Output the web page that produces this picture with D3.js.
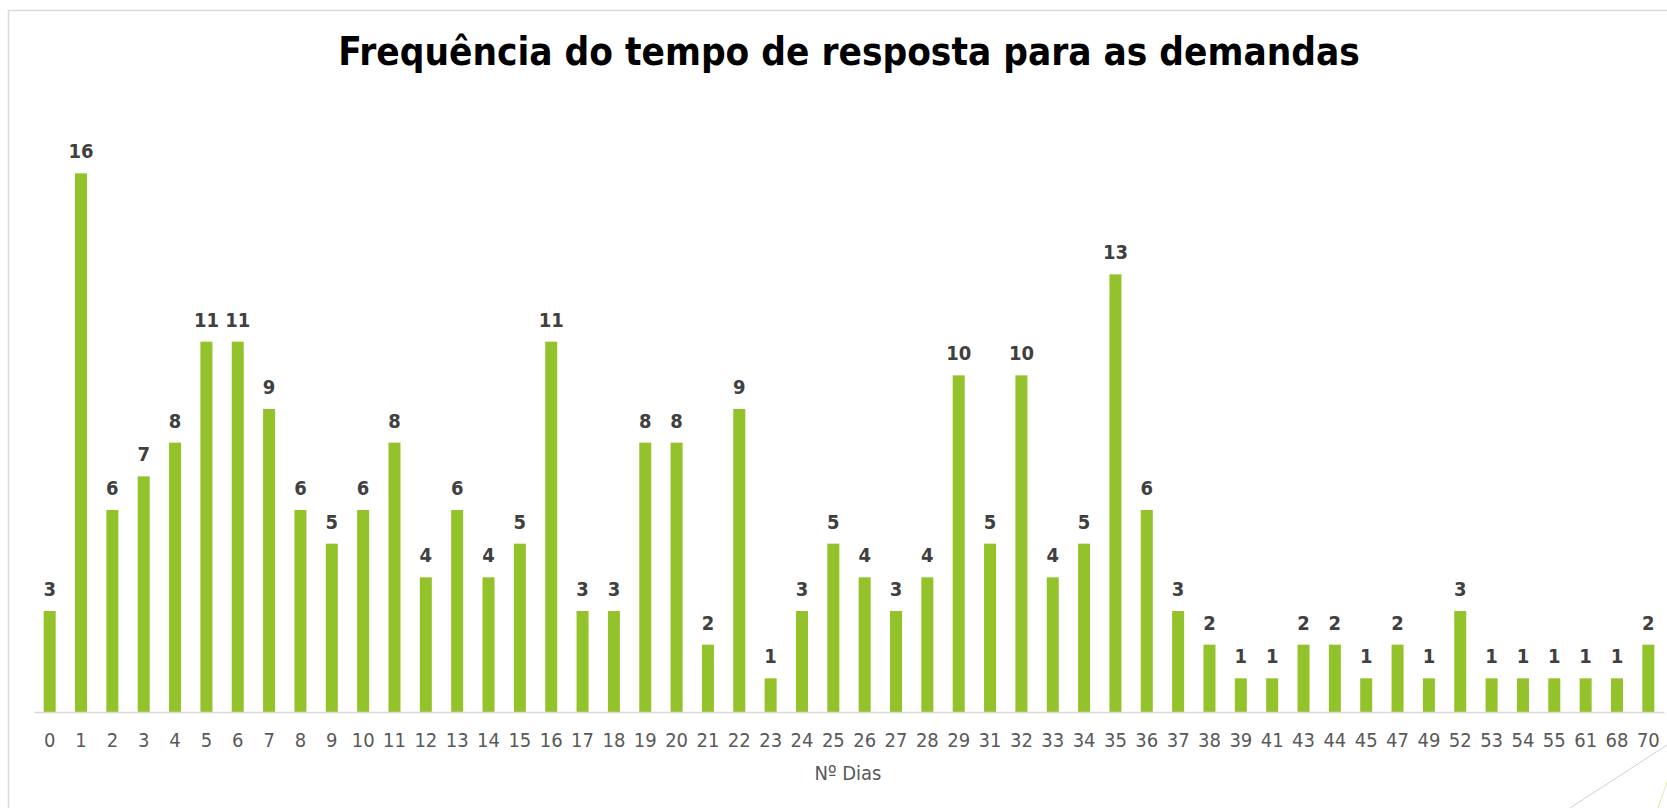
<!DOCTYPE html>
<html>
<head>
<meta charset="utf-8">
<script src="https://cdn.jsdelivr.net/npm/d3@7"></script>
<style>
  html, body { margin: 0; padding: 0; background: #ffffff; }
  svg { display: block; }
</style>
</head>
<body>
<svg id="chart" width="1667" height="808"></svg>
<script>
const titleText = "Frequência do tempo de resposta para as demandas";
const xAxisTitle = "Nº Dias";
const categories = ["0","1","2","3","4","5","6","7","8","9","10","11","12","13","14","15","16","17","18","19","20","21","22","23","24","25","26","27","28","29","31","32","33","34","35","36","37","38","39","41","43","44","45","47","49","52","53","54","55","61","68","70"];
const values = [3,16,6,7,8,11,11,9,6,5,6,8,4,6,4,5,11,3,3,8,8,2,9,1,3,5,4,3,4,10,5,10,4,5,13,6,3,2,1,1,2,2,1,2,1,3,1,1,1,1,1,2];

const FONT = "'DejaVu Sans Condensed', 'DejaVu Sans', sans-serif";
const svg = d3.select("#chart");

// frame
svg.append("path")
  .attr("d", "M8.5,808 L8.5,10.5 L1667,10.5")
  .attr("fill", "none").attr("stroke", "#dadada").attr("stroke-width", 1.5);
svg.append("line").attr("x1", 1570).attr("y1", 808).attr("x2", 1667).attr("y2", 745)
  .attr("stroke", "#d0d0d0").attr("stroke-width", 1);
svg.append("line").attr("x1", 1658).attr("y1", 808).attr("x2", 1667).attr("y2", 782)
  .attr("stroke", "#d6eab0").attr("stroke-width", 1);

const baseY = 712, topY = 106, left = 34, right = 1664;
const x = d3.scaleBand().domain(categories).range([left, right]).paddingInner(0.617).paddingOuter(0.3085);
const y = d3.scaleLinear().domain([0, 18]).range([baseY, topY]);

// bars
svg.append("g").selectAll("rect").data(values).join("rect")
  .attr("x", (d, i) => x(categories[i]))
  .attr("width", x.bandwidth())
  .attr("y", d => y(d))
  .attr("height", d => y(0) - y(d))
  .attr("fill", "#93c22b");

// data labels
svg.append("g").selectAll("text").data(values).join("text")
  .attr("x", (d, i) => x(categories[i]) + x.bandwidth() / 2)
  .attr("y", d => y(d) - 15)
  .attr("text-anchor", "middle")
  .attr("font-family", FONT).attr("font-weight", "bold").attr("font-size", 20)
  .attr("fill", "#404040")
  .text(d => d);

// x axis
const ax = svg.append("g").attr("transform", `translate(0,${baseY})`)
  .call(d3.axisBottom(x).tickSize(0).tickSizeOuter(0));
ax.select(".domain").attr("stroke", "#d9d9d9").attr("stroke-width", 1.5);
ax.selectAll("text").attr("y", 35).attr("dy", null)
  .attr("font-family", FONT).attr("font-size", 20).attr("fill", "#595959");

// axis title
svg.append("text").attr("x", 848).attr("y", 780).attr("text-anchor", "middle")
  .attr("font-family", FONT).attr("font-size", 20).attr("fill", "#595959")
  .text(xAxisTitle);

// chart title
const t = svg.append("text").attr("x", 849).attr("y", 65).attr("text-anchor", "middle")
  .attr("font-family", FONT).attr("font-weight", "bold").attr("font-size", 36).attr("fill", "#000000")
  .text(titleText);
const w = t.node().getComputedTextLength();
if (w > 0) t.attr("font-size", 36 * 1022 / w);
</script>
</body>
</html>
